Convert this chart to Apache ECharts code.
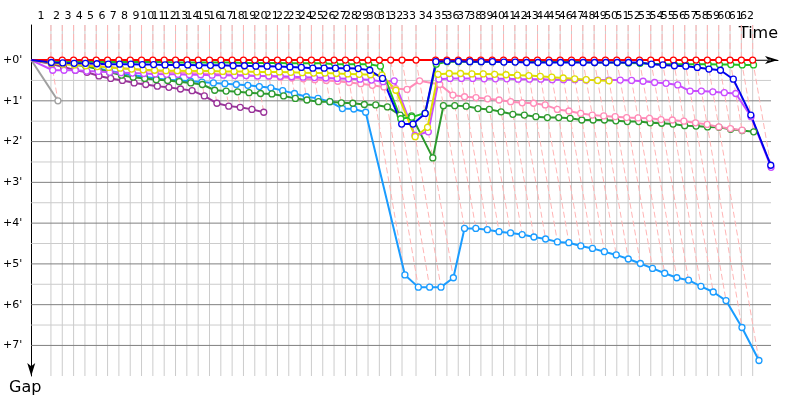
<!DOCTYPE html>
<html>
<head>
<meta charset="utf-8">
<script src="https://cdn.jsdelivr.net/npm/echarts@6/dist/echarts.min.js"></script>
<style>
  html, body { margin: 0; padding: 0; background: #fff; }
  #chart { width: 800px; height: 400px; }
</style>
</head>
<body>
<div id="chart"></div>
<script>
// leader lap durations in seconds, laps 1..62
const lapTimes = [
  169, 97.1, 97.1, 97.1, 97.1, 97.1, 97.1, 97.1, 97.1, 97.1,
  97.1, 97.1, 97.1, 97.1, 97.1, 97.1, 97.1, 97.1, 97.1, 97.1,
  97.1, 97.1, 97.1, 97.1, 97.1, 97.1, 97.1, 97.1, 97.1, 97.1,
  97.1, 97.1, 120, 168, 97.1, 97.1, 97.1, 97.1, 97.1, 97.1,
  97.1, 97.1, 97.1, 97.1, 97.1, 97.1, 97.1, 97.1, 97.1, 97.1,
  97.1, 97.1, 97.1, 97.1, 97.1, 97.1, 97.1, 97.1, 97.1, 97.1,
  97.1, 97.1
];
const lapLabels = [
  '1', '2', '3', '4', '5', '6', '7', '8', '9', '10', '11', '12', '13', '14', '15', '16',
  '17', '18', '19', '20', '21', '22', '23', '24', '25', '26', '27', '28', '29', '30', '31',
  '32', '33', '34', '35', '36', '37', '38', '39', '40', '41', '42', '43', '44', '45', '46',
  '47', '48', '49', '50', '51', '52', '53', '54', '55', '56', '57', '58', '59', '60', '61', '62'
];
const gapTicks = [0, 1, 2, 3, 4, 5, 6, 7];
const halfTicks = [0.5, 1.5, 2.5, 3.5, 4.5, 5.5, 6.5];

// gap to leader in minutes, lap 0 .. last lap
const grayGaps = [0, 1.0];
const purpleGaps = [0, 0.1, 0.17, 0.25, 0.3, 0.39, 0.45, 0.5, 0.56, 0.6, 0.64,
  0.67, 0.71, 0.75, 0.88, 1.06, 1.13, 1.16, 1.21, 1.28];
const skyGaps = [0, 0.03, 0.08, 0.12, 0.15, 0.2, 0.27, 0.32, 0.37, 0.41, 0.45,
  0.48, 0.5, 0.52, 0.54, 0.56, 0.58, 0.6, 0.62, 0.65, 0.68,
  0.75, 0.82, 0.9, 0.94, 1.02, 1.19, 1.2, 1.28, 5.27,
  5.57, 5.57, 5.57, 5.34, 4.13,
  4.13, 4.16, 4.21, 4.24, 4.28, 4.34,
  4.39, 4.46, 4.48, 4.56, 4.62, 4.7, 4.78, 4.88, 4.99, 5.11,
  5.23, 5.34, 5.4, 5.55, 5.69, 5.9, 6.56, 7.37];
const darkGreenGaps = [0, 0.03, 0.06, 0.1, 0.15, 0.22, 0.3, 0.37, 0.42, 0.45, 0.48,
  0.5, 0.53, 0.56, 0.6, 0.74, 0.76, 0.78, 0.8, 0.82, 0.83,
  0.88, 0.94, 0.98, 1.02, 1.02, 1.05, 1.06, 1.09, 1.1,
  1.15, 1.35, 1.37, 2.4, 1.12,
  1.12, 1.13, 1.19, 1.21, 1.27, 1.33,
  1.35, 1.39, 1.41, 1.41, 1.43, 1.47, 1.47, 1.47, 1.49, 1.51,
  1.51, 1.54, 1.55, 1.57, 1.61, 1.62, 1.64, 1.65, 1.7, 1.73, 1.76];
const pinkGaps = [0, 0.02, 0.05, 0.08, 0.11, 0.14, 0.17, 0.2, 0.22, 0.25, 0.27,
  0.29, 0.3, 0.32, 0.33, 0.34, 0.35, 0.36, 0.38, 0.39, 0.4,
  0.42, 0.44, 0.46, 0.48, 0.5, 0.52, 0.55, 0.58, 0.62,
  0.66, 0.7, 0.72, 0.51, 0.6,
  0.86, 0.9, 0.92, 0.95, 0.98, 1.02,
  1.05, 1.06, 1.1, 1.21, 1.25, 1.31, 1.35, 1.37, 1.39, 1.41,
  1.42, 1.43, 1.46, 1.47, 1.5, 1.54, 1.58, 1.64, 1.68, 1.72];
const violetGaps = [0, 0.25, 0.25, 0.25, 0.27, 0.28, 0.3, 0.31, 0.32, 0.33, 0.34,
  0.35, 0.35, 0.36, 0.36, 0.37, 0.37, 0.38, 0.38, 0.39, 0.39,
  0.4, 0.41, 0.42, 0.43, 0.44, 0.45, 0.46, 0.47, 0.49,
  0.53, 0.51, 1.85, 1.76, 0.47,
  0.45, 0.45, 0.45, 0.46, 0.46, 0.46, 0.47, 0.47, 0.47, 0.48, 0.48, 0.48, 0.49, 0.49, 0.49,
  0.49, 0.5, 0.52, 0.55, 0.57, 0.61,
  0.76, 0.76, 0.78, 0.8, 0.82,
  1.39, 2.63];
const yellowGaps = [0, 0.08, 0.1, 0.12, 0.14, 0.16, 0.18, 0.2, 0.22, 0.24, 0.25,
  0.26, 0.26, 0.27, 0.27, 0.27, 0.28, 0.28, 0.28, 0.29, 0.29,
  0.29, 0.3, 0.31, 0.32, 0.32, 0.33, 0.34, 0.35, 0.36,
  0.37, 0.74, 1.88, 1.65, 0.35,
  0.33, 0.33, 0.34, 0.34, 0.35, 0.36, 0.37, 0.38, 0.4, 0.42, 0.44, 0.46, 0.48, 0.5, 0.51];
const greenGaps = [0, 0.03, 0.03, 0.04, 0.04, 0.04, 0.05, 0.05, 0.05, 0.05, 0.05,
  0.05, 0.06, 0.06, 0.06, 0.06, 0.06, 0.06, 0.07, 0.07, 0.07,
  0.07, 0.08, 0.08, 0.08, 0.08, 0.1, 0.1, 0.1, 0.1,
  0.15, 1.44, 1.4, 1.3, 0.1,
  0.04, 0.04, 0.04, 0.04, 0.04, 0.04, 0.04, 0.04,
  0.05, 0.05, 0.05, 0.05, 0.05,
  0.06, 0.06, 0.06,
  0.07, 0.08, 0.09,
  0.1, 0.1, 0.1, 0.1, 0.1,
  0.11, 0.11, 0.12, 0.12];
const redGaps = [0, 0, 0, 0, 0, 0, 0, 0, 0, 0, 0, 0, 0, 0, 0, 0, 0, 0, 0, 0, 0,
  0, 0, 0, 0, 0, 0, 0, 0, 0, 0, 0, 0, 0, 0, 0, 0, 0, 0, 0, 0,
  0, 0, 0, 0, 0, 0, 0, 0, 0, 0, 0, 0, 0, 0, 0, 0, 0, 0, 0, 0, 0, 0];
const blueGaps = [0, 0.06, 0.07, 0.08, 0.08, 0.09, 0.1, 0.1, 0.1, 0.11, 0.11,
  0.12, 0.12, 0.12, 0.13, 0.13, 0.13, 0.14, 0.14, 0.15, 0.15,
  0.16, 0.17, 0.18, 0.2, 0.2, 0.2, 0.2, 0.21, 0.25,
  0.45, 1.57, 1.57, 1.31, 0.04,
  0.03, 0.03, 0.04, 0.04, 0.04, 0.05, 0.05,
  0.06, 0.06, 0.06, 0.06, 0.06, 0.06, 0.06, 0.06, 0.06, 0.06, 0.06,
  0.1, 0.12, 0.14, 0.15, 0.18, 0.22, 0.25,
  0.47, 1.35, 2.58];

// drawing order: first is at the bottom
const drivers = [
  { name: 'gray', color: '#a0a0a0', gaps: grayGaps },
  { name: 'purple', color: '#993399', gaps: purpleGaps },
  { name: 'sky', color: '#1a9cff', gaps: skyGaps },
  { name: 'darkgreen', color: '#2e9a2e', gaps: darkGreenGaps },
  { name: 'pink', color: '#ff8cb8', gaps: pinkGaps },
  { name: 'violet', color: '#c94cff', gaps: violetGaps },
  { name: 'yellow', color: '#dede00', gaps: yellowGaps },
  { name: 'green', color: '#22c022', gaps: greenGaps },
  { name: 'red', color: '#ff0000', gaps: redGaps },
  { name: 'blue', color: '#0000ee', gaps: blueGaps }
];

const Y_MIN = -0.86;
const Y_MAX = 7.75;
const X_MAX = 6403;       // axis end (arrow tip)
const X_LINE_END = 6343;  // where horizontal grid lines stop

// leader's elapsed time at end of each lap
const leaderTime = [0];
lapTimes.forEach(t => leaderTime.push(leaderTime[leaderTime.length - 1] + t));
const labelPos = lapTimes.map((t, i) => (leaderTime[i] + leaderTime[i + 1]) / 2);

// a driver crosses lap n at leader time + his gap
const toPoint = (g, n) => [leaderTime[n] + g * 60, g];

const lapLines = [];
for (let n = 1; n < leaderTime.length; n++) {
  let gmax = 0;
  drivers.forEach(d => { if (n < d.gaps.length) gmax = Math.max(gmax, d.gaps[n]); });
  lapLines.push({ coords: [[leaderTime[n], Y_MIN], [leaderTime[n], 0], toPoint(gmax, n)] });
}

const chart = echarts.init(document.getElementById('chart'), null, { renderer: 'canvas' });
const font = 'Tahoma, "DejaVu Sans", sans-serif';

const series = [
  {
    type: 'lines', coordinateSystem: 'cartesian2d', silent: true, polyline: true,
    lineStyle: { color: '#cccccc', width: 1, opacity: 1 },
    data: leaderTime.slice(1).map(t => ({ coords: [[t, Y_MIN], [t, Y_MAX]] }))
  },
  {
    type: 'lines', coordinateSystem: 'cartesian2d', silent: true, polyline: true,
    lineStyle: { color: '#cccccc', width: 1, opacity: 1 },
    data: halfTicks.map(v => ({ coords: [[0, v], [X_LINE_END, v]] }))
  },
  {
    type: 'lines', coordinateSystem: 'cartesian2d', silent: true, polyline: true,
    lineStyle: { color: '#808080', width: 1, opacity: 1 },
    data: gapTicks.map(v => ({ coords: [[0, v], [X_LINE_END, v]] }))
  },
  {
    type: 'lines', coordinateSystem: 'cartesian2d', silent: true, polyline: true,
    lineStyle: { color: '#ffb4b4', width: 1, type: [6, 3], opacity: 1 },
    data: lapLines
  }
];

drivers.forEach(d => {
  series.push({
    name: d.name,
    type: 'line',
    data: d.gaps.map((g, n) => n === 0 ? { value: toPoint(g, n), symbol: 'none' } : toPoint(g, n)),
    symbol: 'circle',
    symbolSize: 6,
    showAllSymbol: true,
    lineStyle: { color: d.color, width: 2 },
    itemStyle: { color: '#ffffff', borderColor: d.color, borderWidth: 1.3 }
  });
});

chart.setOption({
  animation: false,
  backgroundColor: '#ffffff',
  grid: { left: 31, right: 22, top: 25, bottom: 24, containLabel: false },
  graphic: [{
    type: 'text',
    right: 22,
    top: 26,
    style: { text: 'Time', fill: '#000', font: '16px Tahoma, "DejaVu Sans", sans-serif' }
  }],
  xAxis: {
    type: 'value',
    position: 'top',
    min: 0,
    max: X_MAX,
    axisLine: { show: true, lineStyle: { color: '#000', width: 1 }, symbol: ['none', 'arrow'], symbolSize: [6, 13] },
    axisTick: { show: false },
    splitLine: { show: false },
    axisLabel: {
      // the extra value at the axis end carries an empty label so no lap label is dropped
      customValues: labelPos.concat([X_MAX]),
      margin: 3,
      hideOverlap: false,
      color: '#000',
      fontFamily: font,
      fontSize: 11,
      formatter: v => {
        const i = labelPos.findIndex(p => Math.abs(p - v) < 1e-6);
        return i >= 0 ? lapLabels[i] : '';
      }
    }
  },
  yAxis: {
    type: 'value',
    inverse: true,
    min: Y_MIN,
    max: Y_MAX,
    name: 'Gap',
    nameLocation: 'end',
    nameGap: 4,
    nameMoveOverlap: false,
    nameTextStyle: { fontFamily: font, fontSize: 16, color: '#000', padding: [0, 12, 0, 0] },
    axisLine: { show: true, lineStyle: { color: '#000', width: 1 }, symbol: ['arrow', 'none'], symbolSize: [6, 13] },
    axisTick: { show: false },
    splitLine: { show: false },
    axisLabel: {
      customValues: gapTicks,
      margin: 9,
      color: '#000',
      fontFamily: font,
      fontSize: 11,
      formatter: v => '+' + v + '\''
    }
  },
  series: series
});
</script>
</body>
</html>
